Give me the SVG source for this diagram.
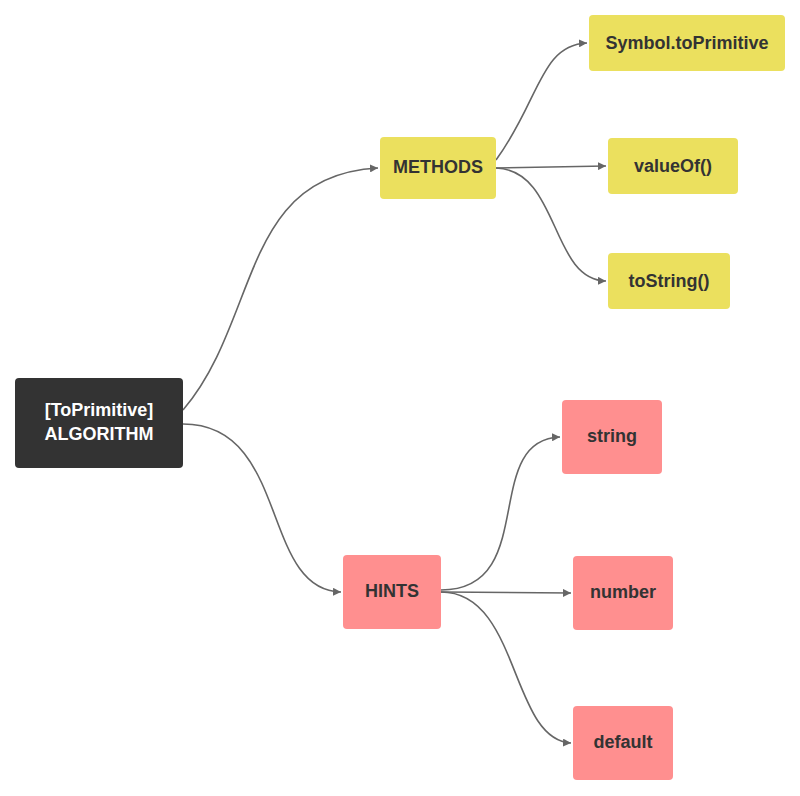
<svg xmlns="http://www.w3.org/2000/svg" width="800" height="796" viewBox="0 0 800 796">
<style>
.y{fill:#ebe05e}.p{fill:#ff8f8f}
text{font-family:"Liberation Sans",Arial,sans-serif;font-weight:bold;font-size:18px;fill:#333;text-anchor:middle;dominant-baseline:central}
.c path{fill:none;stroke:#666;stroke-width:1.6;marker-end:url(#a)}
</style>
<defs><marker id="a" viewBox="0 0 10 10" refX="10" refY="5" markerWidth="8" markerHeight="8" markerUnits="userSpaceOnUse" orient="auto"><path d="M0,0L10,5L0,10z" fill="#666"/></marker></defs>
<rect width="800" height="796" fill="#fff"/>
<g class="c">
<path d="M183,410 C260,320 240,175 378,168"/>
<path d="M183,424 C290,424 260,590 341,592"/>
<path d="M496,160 C540,100 540,45 587,43"/>
<path d="M496,168 L606,166"/>
<path d="M496,168 C560,170 550,280 606,281"/>
<path d="M441,590 C540,590 480,440 560,437"/>
<path d="M441,592 L571,593"/>
<path d="M441,592 C520,592 510,740 571,743"/>
</g>
<g id="root"><rect x="15" y="378" width="168" height="90" rx="4" fill="#333"/><text x="99" y="410" style="fill:#fff">[ToPrimitive]</text><text x="99" y="434" style="fill:#fff">ALGORITHM</text></g>
<g id="methods"><rect class="y" x="380" y="137" width="116" height="62" rx="4"/><text x="438" y="167">METHODS</text></g>
<g id="sym"><rect class="y" x="589" y="15" width="196" height="56" rx="4"/><text x="687" y="43">Symbol.toPrimitive</text></g>
<g id="valueof"><rect class="y" x="608" y="138" width="130" height="56" rx="4"/><text x="673" y="166">valueOf()</text></g>
<g id="tostring"><rect class="y" x="608" y="253" width="122" height="56" rx="4"/><text x="669" y="281">toString()</text></g>
<g id="hints"><rect class="p" x="343" y="555" width="98" height="74" rx="4"/><text x="392" y="591">HINTS</text></g>
<g id="string"><rect class="p" x="562" y="400" width="100" height="74" rx="4"/><text x="612" y="436">string</text></g>
<g id="number"><rect class="p" x="573" y="556" width="100" height="74" rx="4"/><text x="623" y="592">number</text></g>
<g id="default"><rect class="p" x="573" y="706" width="100" height="74" rx="4"/><text x="623" y="742">default</text></g>
</svg>
